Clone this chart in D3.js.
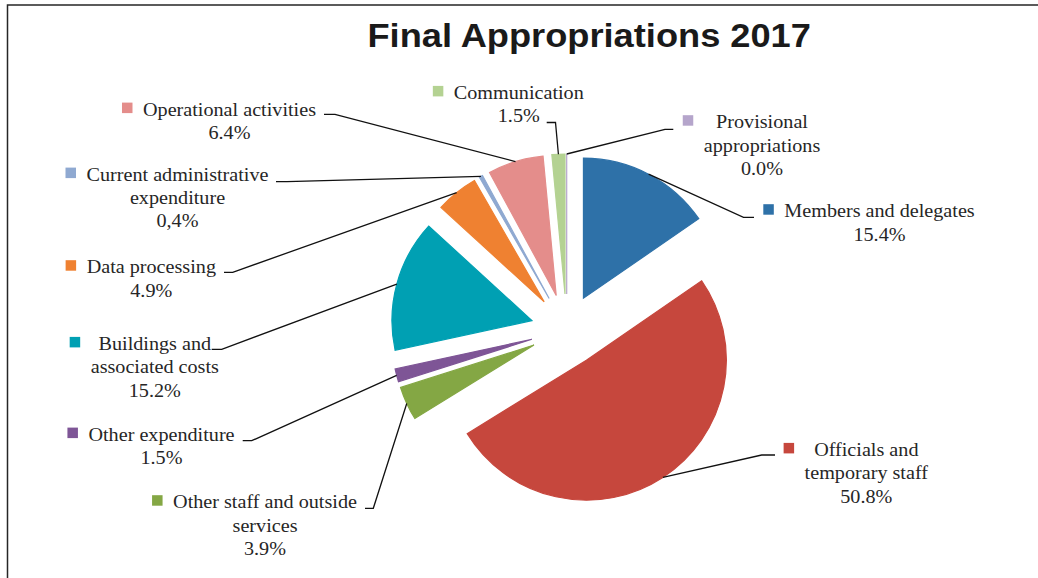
<!DOCTYPE html>
<html>
<head>
<meta charset="utf-8">
<script src="https://cdn.jsdelivr.net/npm/d3@7"></script>
<style>
  html, body { margin: 0; padding: 0; background: #fff; }
  svg { display: block; }
</style>
</head>
<body>
<svg id="chart" width="1038" height="578"></svg>
<script>
// Final appropriations 2017, share of total (%), clockwise from 12 o'clock
const categories = [
  "Members and delegates",
  "Officials and temporary staff",
  "Other staff and outside services",
  "Other expenditure",
  "Buildings and associated costs",
  "Data processing",
  "Current administrative expenditure",
  "Operational activities",
  "Communication",
  "Provisional appropriations"
];
const shares = [15.4, 50.8, 3.9, 1.5, 15.2, 4.9, 0.4, 6.4, 1.5, 0.0];
const shareLabels = ["15.4%", "50.8%", "3.9%", "1.5%", "15.2%", "4.9%", "0,4%", "6.4%", "1.5%", "0.0%"];
const labelLines = [
  ["Members and delegates"],
  ["Officials and", "temporary staff"],
  ["Other staff and outside", "services"],
  ["Other expenditure"],
  ["Buildings and", "associated costs"],
  ["Data processing"],
  ["Current administrative", "expenditure"],
  ["Operational activities"],
  ["Communication"],
  ["Provisional", "appropriations"]
];
const colors = ["#2E71A8", "#C6473D", "#84A744", "#7E5596", "#00A0B3",
                "#EF8131", "#8FA9D1", "#E48D8B", "#B4D292", "#B5A5CB"];

// Label placement: text centre x, first baseline y, leader elbow, leader end x
const labelLayout = [
  { cx: 879.5, y: 217.3, ex: 743.5, ey: 217.3, tx: 754 },
  { cx: 866.3, y: 456.0, ex: 761.7, ey: 455.0, tx: 775 },
  { cx: 265.0, y: 508.3, ex: 373.3, ey: 508.3, tx: 365 },
  { cx: 161.5, y: 440.7, ex: 251.7, ey: 440.7, tx: 242.7 },
  { cx: 154.8, y: 350.0, ex: 221.7, ey: 349.3, tx: 211.7 },
  { cx: 151.3, y: 273.3, ex: 232.7, ey: 272.3, tx: 224 },
  { cx: 177.5, y: 180.7, ex: 287.0, ey: 181.7, tx: 276 },
  { cx: 229.5, y: 115.7, ex: 335.0, ey: 114.3, tx: 324 },
  { cx: 518.8, y: 99.0,  ex: 555.5, ey: 122.5, tx: 546.7 },
  { cx: 762.0, y: 128.3, ex: 665.0, ey: 129.3, tx: 673.3 }
];

const svg = d3.select("#chart");
const cx = 566.7, cy = 330, radius = 140, explode = 36;
const lineGap = 23.3, labelSize = 18.6, labelStretch = 1.085;
const keySize = 10.5, keyGap = 10.5;

// Frame
svg.append("rect")
  .attr("x", 7.5).attr("y", 5)
  .attr("width", 1100).attr("height", 700)
  .attr("fill", "none").attr("stroke", "#262626").attr("stroke-width", 1.5);

// Title
svg.append("text")
  .attr("transform", "translate(589.2,47.3) scale(1.098,1)")
  .attr("text-anchor", "middle")
  .attr("font-family", "'Liberation Sans', Arial, sans-serif")
  .attr("font-weight", "bold")
  .attr("font-size", 33)
  .attr("fill", "#1a1a1a")
  .text("Final Appropriations 2017");

const pie = d3.pie().sort(null).value(d => d)
  .startAngle(0).endAngle(2 * Math.PI);
const arcs = pie(shares);
const arc = d3.arc().innerRadius(0).outerRadius(radius);
const mid = a => (a.startAngle + a.endAngle) / 2;

// Exploded slices
const g = svg.append("g").attr("transform", `translate(${cx},${cy})`);
g.selectAll("path.slice")
  .data(arcs)
  .join("path")
  .attr("class", "slice")
  .attr("transform", d => {
    const m = mid(d);
    return `translate(${explode * Math.sin(m)},${-explode * Math.cos(m)})`;
  })
  .attr("d", arc)
  .attr("fill", (d, i) => colors[i])
  .attr("stroke", (d, i) => colors[i])
  .attr("stroke-width", 1.2)
  .attr("stroke-linejoin", "miter");

// Leader lines from the middle of each slice's outer edge
const lines = svg.append("g");
arcs.forEach((d, i) => {
  const m = mid(d);
  const L = labelLayout[i];
  const sx = cx + (explode + radius) * Math.sin(m);
  const sy = cy - (explode + radius) * Math.cos(m);
  lines.append("path")
    .attr("d", d3.line()([[sx, sy], [L.ex, L.ey], [L.tx, L.ey]]))
    .attr("fill", "none")
    .attr("stroke", "#111")
    .attr("stroke-width", 1.3);
});

// Data labels with legend keys
const labels = svg.append("g")
  .attr("font-family", "'Liberation Serif', 'Times New Roman', serif")
  .attr("font-size", labelSize)
  .attr("fill", "#262626");

arcs.forEach((d, i) => {
  const L = labelLayout[i];
  const rows = labelLines[i].concat([shareLabels[i]]);
  const grp = labels.append("g")
    .attr("transform", `translate(${L.cx},${L.y}) scale(${labelStretch},1)`);
  let maxW = 0;
  rows.forEach((t, k) => {
    const node = grp.append("text")
      .attr("x", 0).attr("y", k * lineGap)
      .attr("text-anchor", "middle")
      .text(t).node();
    maxW = Math.max(maxW, node.getComputedTextLength());
  });
  const left = L.cx - maxW * labelStretch / 2;
  labels.append("rect")
    .attr("x", left - keyGap - keySize)
    .attr("y", L.y - 2.6 - keySize)
    .attr("width", keySize).attr("height", keySize)
    .attr("fill", colors[i]);
});
</script>
</body>
</html>
